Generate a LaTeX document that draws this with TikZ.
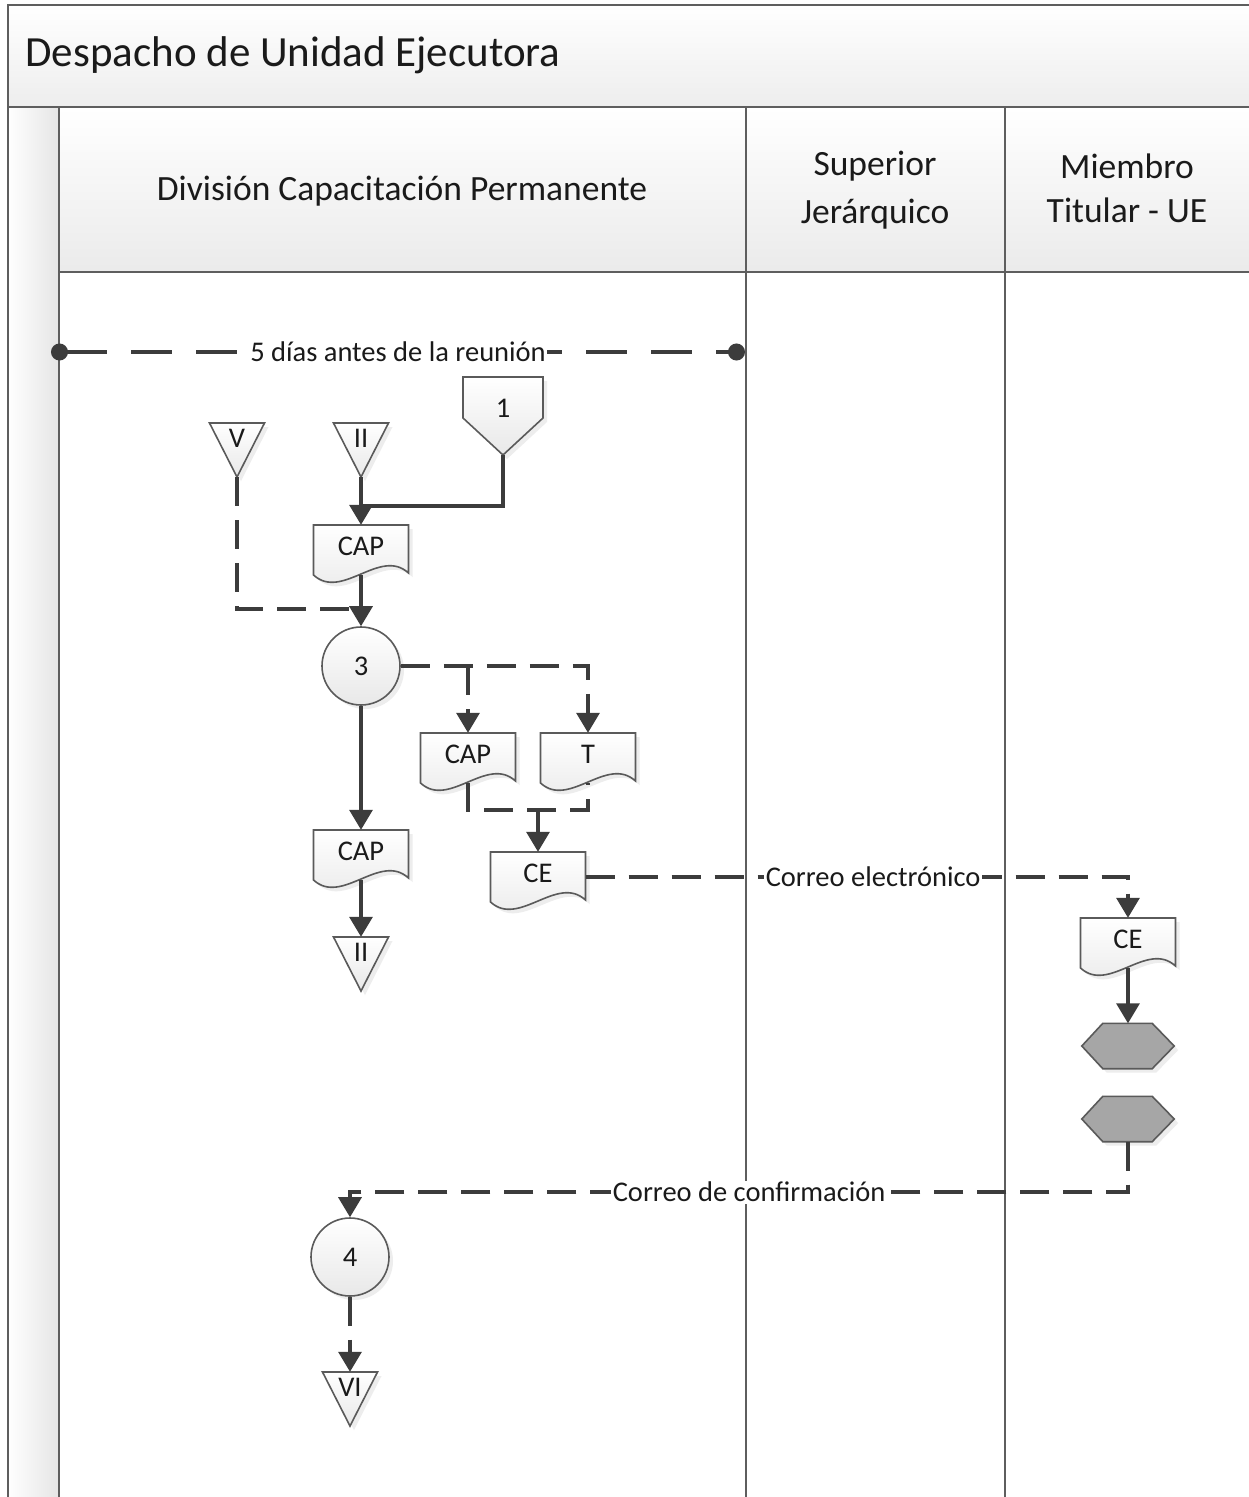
\documentclass[tikz,border=0pt]{standalone}
\usepackage{fontspec}
\setmainfont{Carlito}
\usetikzlibrary{arrows.meta,shadows,calc}

\definecolor{ink}{HTML}{1A1A1A}
\definecolor{framegray}{HTML}{5E5E5E}
\definecolor{wire}{HTML}{3C3C3C}
\definecolor{symline}{HTML}{5A5A5A}
\definecolor{hexgray}{HTML}{A6A6A6}

\tikzset{
  lane/.style={draw=framegray, line width=2pt},
  lbl/.style={font=\fontsize{28.5}{34}\selectfont, text=ink},
  symshadow/.style={drop shadow={opacity=0.14, shadow xshift=4pt, shadow yshift=-4pt}},
  symfill/.style={draw=symline, line width=1.6pt, top color=white, bottom color=black!9, symshadow},
  hexfill/.style={draw=symline, line width=1.6pt, fill=hexgray, symshadow},
  docbox/.style={rectangle, minimum width=95pt, minimum height=50pt, inner sep=0pt, text depth=8pt, lbl},
  tribox/.style={rectangle, minimum width=55pt, minimum height=54pt, inner sep=0pt, text depth=24pt, lbl},
  penbox/.style={rectangle, minimum width=80pt, minimum height=78pt, inner sep=0pt, text depth=15pt, lbl},
  hexbox/.style={rectangle, minimum width=92pt, minimum height=45pt, inner sep=0pt},
  procnode/.style={circle, minimum size=78pt, inner sep=0pt, symfill, lbl},
  plainwire/.style={draw=wire, line width=3.2pt},
  flow/.style={plainwire, -{Triangle[width=23pt,length=20pt]}},
  dashwire/.style={dash pattern=on 29pt off 14pt},
  tag/.style={lbl, fill=white, inner sep=1.5pt},
  head/.style={font=\fontsize{35.5}{44}\selectfont, text=ink, anchor=base},
}

% document symbol: rectangle with a wavy bottom edge
\newcommand\docsym[4]{%
  \path[symfill, shift={(#2,#3)}] (-47.5,-25) -- (47.5,-25) -- (47.5,23)
     .. controls (19,-3) and (-19,51) .. (-47.5,25) -- cycle;
  \node[docbox] (#1) at (#2,#3) {#4};}
% off-page reference: downward triangle, given centre x and top y
\newcommand\offtri[4]{%
  \path[symfill, shift={(#2,#3)}] (-27.5,0) -- (27.5,0) -- (0,54) -- cycle;
  \node[tribox] (#1) at (#2,#3+27) {#4};}
% manual operation: flat hexagon
\newcommand\hexsym[3]{%
  \node[hexbox] (#1) at (#2,#3) {};
  \path[hexfill] (#1.west) -- ($(#1.north west)+(21,0)$) -- ($(#1.north east)+(-22,0)$)
     -- (#1.east) -- ($(#1.south east)+(-22,0)$) -- ($(#1.south west)+(21,0)$) -- cycle;}

\begin{document}
\begin{tikzpicture}[x={(1pt,0pt)}, y={(0pt,-1pt)}]
\useasboundingbox (0,0) rectangle (1249,1497);
\clip (0,0) rectangle (1249,1497);

% pool and lanes
\fill[white] (0,0) rectangle (1249,1497);
\shade[top color=white, bottom color=black!7] (8,5) rectangle (1260,107);
\shade[left color=white, right color=black!10] (8,107) rectangle (59,1510);
\shade[top color=white, bottom color=black!8] (59,107) rectangle (1260,272);
\draw[lane] (1260,5) -- (8,5) -- (8,1510);
\draw[lane] (8,107) -- (1260,107);
\draw[lane] (59,107) -- (59,1510);
\draw[lane] (746,107) -- (746,1510);
\draw[lane] (1005,107) -- (1005,1510);
\draw[lane] (59,272) -- (1260,272);

\node[anchor=base west, font=\fontsize{43}{50}\selectfont, text=ink] (ttl) at (22,66) {Despacho de Unidad Ejecutora};
\node[head] (h1) at (402,200) {División Capacitación Permanente};
\node[head] (h2a) at (875,175) {Superior};
\node[head] (h2b) at (875,223) {Jerárquico};
\node[head] (h3a) at (1127,178) {Miembro};
\node[head] (h3b) at (1127,222) {Titular - UE};

% symbols
\offtri{tV}{237}{423}{V}
\offtri{tII}{361}{423}{II}
\path[symfill] (463,377) -- (543,377) -- (543,418) -- (503,455) -- (463,418) -- cycle;
\node[penbox] (off1) at (503,416) {1};
\docsym{cap1}{361}{550}{CAP}
\node[procnode] (c3) at (361,666) {3};
\docsym{cap2}{468}{758}{CAP}
\docsym{t1}{588}{758}{T}
\docsym{cap3}{361}{855}{CAP}
\docsym{ce1}{538}{877}{CE}
\offtri{tII2}{361}{937}{II}
\docsym{ce2}{1128}{943}{CE}
\hexsym{hx1}{1128}{1046}
\hexsym{hx2}{1128}{1119}
\node[procnode] (c4) at (350,1257) {4};
\offtri{tVI}{350}{1372}{VI}

% junction points
\coordinate (j1) at (361,506);
\coordinate (j2) at (361,609);
\coordinate (j3) at (468,666);
\coordinate (jn) at (538,810);
\coordinate (j4) at (350,1192);
\coordinate (tl0) at (51,352);
\coordinate (tl1) at (745,352);

% timer
\draw[plainwire, dash pattern=on 41pt off 24pt, {Circle[length=17pt]}-{Circle[length=17pt]}]
  (tl0) -- node[tag] (m0) {5 días antes de la reunión} (tl1);

% flows
\draw[flow] (tII.south) -- (cap1.north);
\draw[plainwire] (off1.south) -- (off1.south |- j1) -- (j1);
\draw[plainwire, dashwire] (tV.south) -- (tV.south |- j2) -- (j2);
\draw[flow] (cap1.south) -- (c3.north);
\draw[flow, dashwire] (c3.east) -- (t1.north |- c3.east) -- (t1.north);
\draw[flow, dashwire] (j3) -- (cap2.north);
\draw[flow] (c3.south) -- (cap3.north);
\draw[flow] (cap3.south) -- (tII2.north);
\draw[plainwire, dashwire] (cap2.south) -- (cap2.south |- jn) -- (t1.south |- jn) -- (t1.south);
\draw[flow] (jn) -- (ce1.north);
\draw[flow, dashwire] (ce1.east) -- node[tag, pos=0.53] (m1) {Correo electrónico} (ce2.north |- ce1.east) -- (ce2.north);
\draw[flow] (ce2.south) -- (hx1.north);
\draw[flow, dashwire] (hx2.south) -- (hx2.south |- j4) -- node[tag, pos=0.487] (m2) {Correo de confirmación} (j4) -- (c4.north);
\draw[flow, dashwire] (c4.south) -- (tVI.north);
\end{tikzpicture}
\end{document}
